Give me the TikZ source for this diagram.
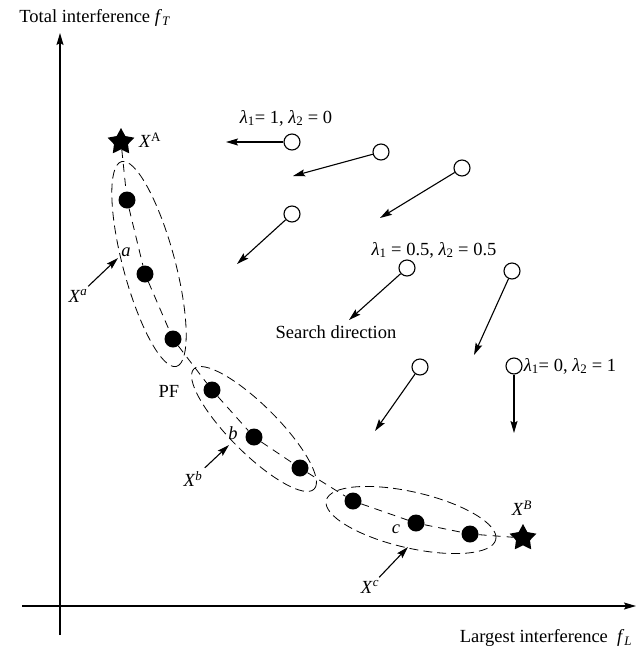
\documentclass[tikz,border=0pt]{standalone}
\usepackage{fontspec}
\setmainfont{Liberation Serif}
\usetikzlibrary{arrows.meta,positioning,shapes.geometric}

\newcommand{\lam}[1]{\textit{λ}\textsubscript{#1}}

\begin{document}
\begin{tikzpicture}[x=1pt,y=1pt,
    font=\fontsize{18.5}{20}\selectfont,
    axis/.style={-{Stealth[length=12pt,width=7pt,inset=2pt]},line width=1.2pt},
    pfdot/.style={circle,fill=black,minimum size=17pt,inner sep=0pt},
    sol/.style={circle,draw,line width=1.1pt,fill=white,minimum size=16pt,inner sep=0pt},
    extreme/.style={star,star points=5,star point ratio=1.9,fill=black,
      minimum size=28pt,inner sep=0pt},
    group/.style={ellipse,draw,dash pattern=on 9pt off 5pt,line width=0.8pt,
      inner sep=0pt},
    front/.style={dash pattern=on 8pt off 6pt,line width=0.8pt},
    search/.style={-{Stealth[length=12pt,width=7pt,inset=2pt]},line width=1.1pt}
  ]
    \useasboundingbox (0,0) rectangle (640,-649);

    % axes
    \coordinate (ybot) at (60,-635);
    \coordinate (ytop) at (60,-33);
    \coordinate (xleft) at (22,-606);
    \coordinate (xright) at (636,-606);
    \draw[axis] (ybot) -- (ytop);
    \draw[axis] (xleft) -- (xright);
    \node (ftlab) at (95,-18) {Total interference \textit{f}\textsubscript{\textit{T}}};
    \node (fllab) at (546,-638) {Largest interference\ \ \textit{f}\textsubscript{\textit{L}}};

    % groups
    \node[group,minimum width=212pt,minimum height=52pt,rotate=-75] (ga) at (149,-264) {};
    \node[group,minimum width=170pt,minimum height=48pt,rotate=-45] (gb) at (254,-429) {};
    \node[group,minimum width=174pt,minimum height=56pt,rotate=-13] (gc) at (411,-520) {};

    % Pareto front
    \node[extreme] (XA) at (121,-142) {};
    \node[extreme] (XB) at (523,-538) {};
    \node[pfdot] (p1) at (127,-200) {};
    \node[pfdot] (p2) at (145,-274) {};
    \node[pfdot] (p3) at (173,-339) {};
    \node[pfdot] (p4) at (212,-390) {};
    \node[pfdot] (p5) at (254,-437) {};
    \node[pfdot] (p6) at (300,-468) {};
    \node[pfdot] (p7) at (353,-501) {};
    \node[pfdot] (p8) at (416,-523) {};
    \node[pfdot] (p9) at (470,-534) {};
    \draw[front] (XA) -- (p1) -- (p2) -- (p3) -- (p4) -- (p5) -- (p6)
      -- (p7) -- (p8) -- (p9) -- (XB);

    \node (xalab) at (150,-140) {\textit{X}\textsuperscript{A}};
    \node (xblab) at (522,-508) {\textit{X}\textsuperscript{\textit{B}}};
    \node (pf) at (169,-391) {PF};
    \node (la) at (126,-252) {\textit{a}};
    \node (lb) at (233,-433) {\textit{b}};
    \node (lc) at (396,-529) {\textit{c}};

    % subsets
    \node (xsa) at (78,-296) {\textit{X}\textsuperscript{\textit{a}}};
    \node (xsb) at (193,-479) {\textit{X}\textsuperscript{\textit{b}}};
    \node (xsc) at (370,-587) {\textit{X}\textsuperscript{\textit{c}}};
    \coordinate (ta) at (118,-258);
    \coordinate (tb) at (229,-445);
    \coordinate (tc) at (408,-547);
    \draw[search] (xsa) -- (ta);
    \draw[search] (xsb) -- (tb);
    \draw[search] (xsc) -- (tc);

    % search directions
    \node[sol] (s1) at (292,-142) {};
    \node[sol] (s2) at (381,-152) {};
    \node[sol] (s3) at (462,-168) {};
    \node[sol] (s4) at (292,-214) {};
    \node[sol] (s5) at (407,-268) {};
    \node[sol] (s6) at (512,-271) {};
    \node[sol] (s7) at (420,-367) {};
    \node[sol] (s8) at (514,-366) {};
    \coordinate (e1) at (226,-142);
    \coordinate (e2) at (293,-176);
    \coordinate (e3) at (380,-218);
    \coordinate (e4) at (237,-264);
    \coordinate (e5) at (349,-320);
    \coordinate (e6) at (474,-355);
    \coordinate (e7) at (375,-431);
    \coordinate (e8) at (514,-433);
    \foreach \i in {1,...,8}
      \draw[search] (s\i) -- (e\i);

    \node (w1) at (286,-118) {\lam{1}= 1,\ \lam{2} = 0};
    \node (w2) at (434,-250) {\lam{1} = 0.5,\ \lam{2} = 0.5};
    \node[right=0pt of s8,inner sep=1pt] (w3) {\lam{1}= 0,\ \lam{2} = 1};
    \node (sd) at (336,-332) {Search direction};
  \end{tikzpicture}
\end{document}
